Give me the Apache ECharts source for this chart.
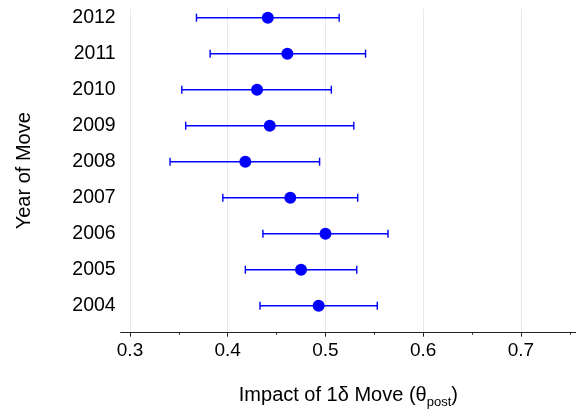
<!DOCTYPE html>
<html>
<head>
<meta charset="utf-8">
<script src="https://cdn.jsdelivr.net/npm/echarts@6/dist/echarts.min.js"></script>
<style>html,body{margin:0;padding:0;background:#fff}#c{width:576px;height:411px}</style>
</head>
<body>
<div id="c"></div>
<script>
const years = [2004, 2005, 2006, 2007, 2008, 2009, 2010, 2011, 2012];
const estimates = [0.493, 0.475, 0.500, 0.464, 0.418, 0.443, 0.430, 0.461, 0.441];
const lower = [0.433, 0.418, 0.436, 0.395, 0.341, 0.357, 0.353, 0.382, 0.368];
const upper = [0.553, 0.532, 0.564, 0.533, 0.494, 0.529, 0.506, 0.541, 0.514];
const xTicks = [0.3, 0.4, 0.5, 0.6, 0.7];

const blue = '#0000ff';
const font = 'Liberation Sans, Arial, sans-serif';

const chart = echarts.init(document.getElementById('c'), null, {renderer: 'canvas'});
chart.setOption({
  animation: false,
  backgroundColor: '#fff',
  grid: {left: 120.7, right: 0, top: 8.7, bottom: 78.3, containLabel: false, outerBoundsMode: 'none'},
  xAxis: {
    type: 'value', min: 0.2905, max: 0.7563,
    axisLine: {show: true, lineStyle: {color: '#222', width: 1}},
    axisTick: {show: true, length: 4, lineStyle: {color: '#222'}, customValues: xTicks},
    minorTick: {show: true, splitNumber: 2, length: 2, lineStyle: {color: '#222'}},
    axisLabel: {customValues: xTicks, fontSize: 19, color: '#000', fontFamily: font, margin: 9,
      formatter: v => v.toFixed(1)},
    splitLine: {show: true, lineStyle: {color: '#e9e9e9', width: 1}},
    name: '{a|Impact of 1δ Move (θ}{b|post}{a|)}',
    nameLocation: 'middle', nameGap: 53,
    nameTextStyle: {fontFamily: font, color: '#000', rich: {
      a: {fontSize: 20, fontFamily: font, color: '#000', lineHeight: 24, verticalAlign: 'top'},
      b: {fontSize: 13, fontFamily: font, color: '#000', lineHeight: 13, padding: [10, 0, 0, 0], verticalAlign: 'top'}
    }}
  },
  yAxis: {
    type: 'value', min: 2003.25, max: 2012.25,
    axisLine: {show: false}, axisTick: {show: false}, splitLine: {show: false},
    axisLabel: {customValues: years, fontSize: 19.5, color: '#000', fontFamily: font, margin: 5,
      formatter: v => String(v)},
    name: 'Year of Move', nameLocation: 'middle', nameGap: 86, nameRotate: 90,
    nameTextStyle: {fontSize: 20, color: '#000', fontFamily: font}
  },
  series: [
    {
      type: 'custom',
      data: years.map((y, i) => [y, lower[i], upper[i]]),
      encode: {x: [1, 2], y: 0},
      renderItem: function (params, api) {
        const y = api.value(0);
        const lo = api.coord([api.value(1), y]);
        const hi = api.coord([api.value(2), y]);
        const h = 4;
        const st = {stroke: blue, lineWidth: 1.4};
        return {type: 'group', children: [
          {type: 'line', shape: {x1: lo[0], y1: lo[1], x2: hi[0], y2: hi[1]}, style: st},
          {type: 'line', shape: {x1: lo[0], y1: lo[1] - h, x2: lo[0], y2: lo[1] + h}, style: st},
          {type: 'line', shape: {x1: hi[0], y1: hi[1] - h, x2: hi[0], y2: hi[1] + h}, style: st}
        ]};
      },
      z: 2
    },
    {
      type: 'scatter',
      data: years.map((y, i) => [estimates[i], y]),
      symbol: 'circle', symbolSize: 12,
      itemStyle: {color: blue, opacity: 1},
      z: 3
    }
  ]
});
</script>
</body>
</html>
